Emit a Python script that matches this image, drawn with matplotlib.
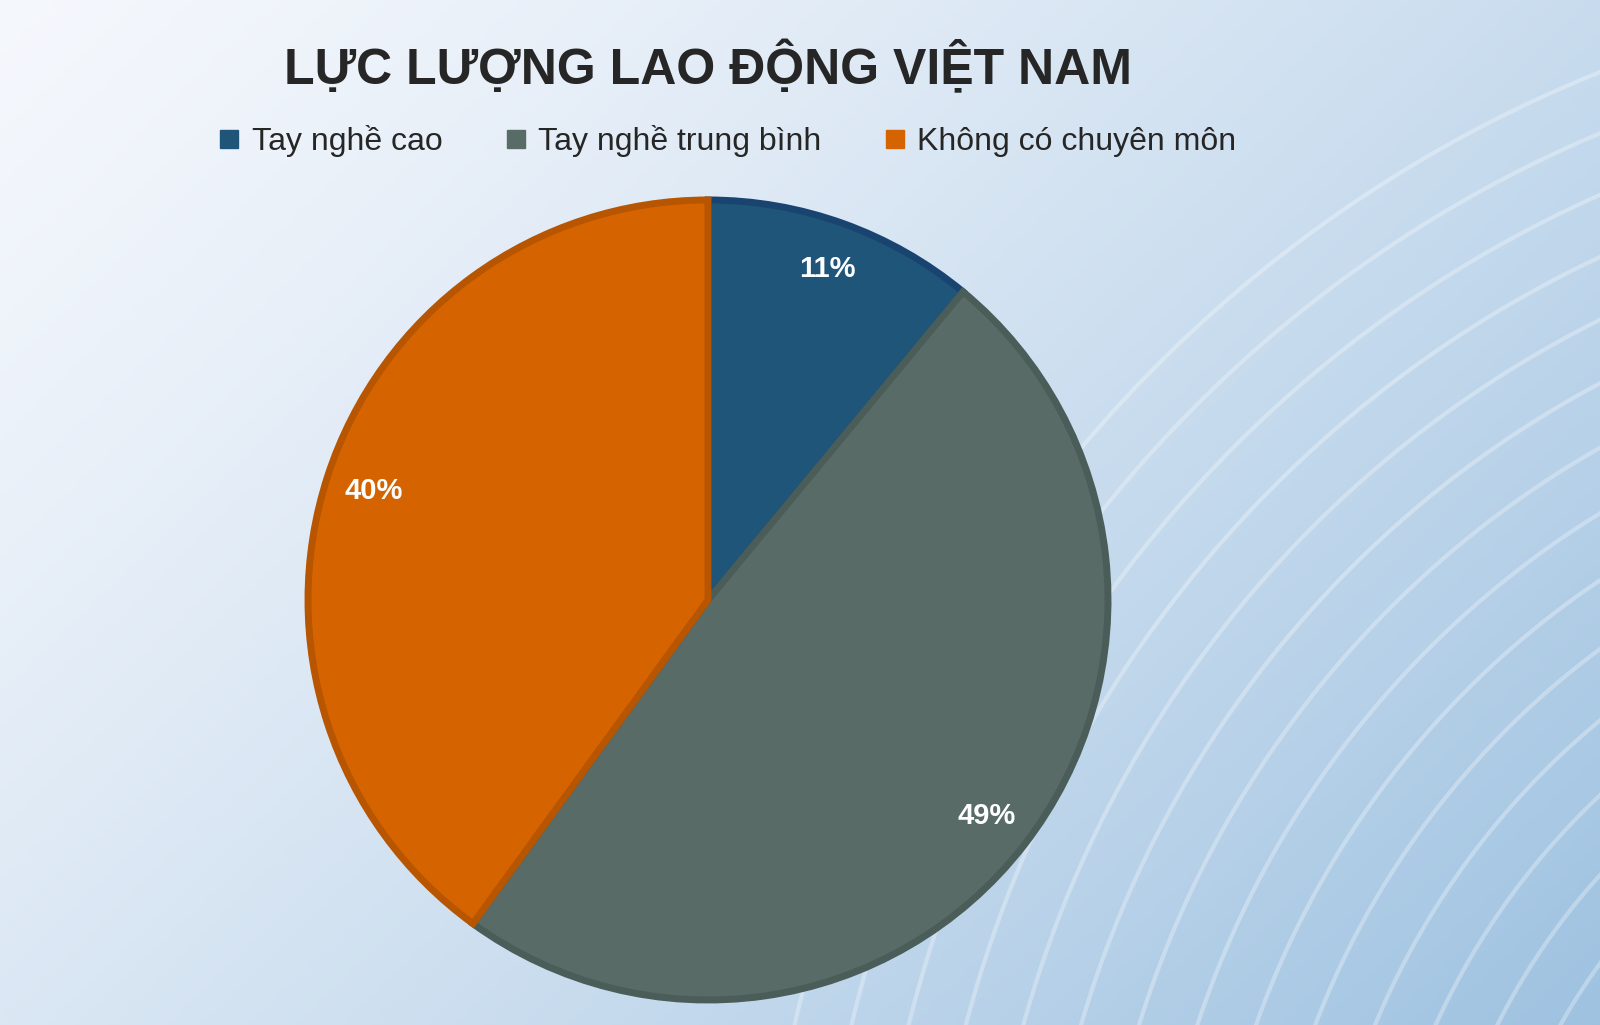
import numpy as np
import matplotlib
matplotlib.use("Agg")
import matplotlib.pyplot as plt
from matplotlib.lines import Line2D

plt.rcParams['font.family'] = ['Liberation Sans', 'DejaVu Sans']

title = "LỰC LƯỢNG LAO ĐỘNG VIỆT NAM"
categories = ["Tay nghề cao", "Tay nghề trung bình", "Không có chuyên môn"]
values = [11, 49, 40]
colors = ["#1F5578", "#586B66", "#D56400"]
edges = ["#1A4470", "#4A5D58", "#B85500"]

fig = plt.figure(figsize=(16, 10.25), dpi=100)
bg = fig.add_axes([0, 0, 1, 1])
yy, xx = np.mgrid[0:1:300j, 0:1:400j]
t = np.clip(0.6 * xx + 0.4 * yy, 0, 1)
c0 = np.array([0.96, 0.97, 0.99]); c1 = np.array([0.62, 0.76, 0.88])
img = c0 + (c1 - c0) * t[..., None] ** 1.3
bg.imshow(img, extent=[0, 1, 0, 1], aspect="auto", origin="upper")
th = np.linspace(0, np.pi, 200)
for r in np.linspace(0.5, 1.1, 14):
    bg.plot(1.3 - r * np.cos(th) * 0.75, -0.3 + r * np.sin(th) * 1.2,
            color="white", alpha=0.3, lw=3)
bg.set_xlim(0, 1); bg.set_ylim(0, 1); bg.axis("off")

ax = fig.add_axes([0.1925, 0.0244, 0.5, 0.7805])
wedges, _, autotexts = ax.pie(values, colors=colors, startangle=90, counterclock=False,
                              autopct=lambda p: f"{p:.0f}%", pctdistance=0.88,
                              textprops=dict(color="white", fontsize=21, fontweight="bold"))
for w, e in zip(wedges, edges):
    w.set_edgecolor(e); w.set_linewidth(5)
ax.set_xlim(-1, 1); ax.set_ylim(-1, 1)
ax.set_aspect("equal")

fig.text(0.4426, 0.934, title, ha="center", va="center", fontsize=36,
         fontweight="bold", color="#262626")
handles = [Line2D([], [], marker="s", ls="", color=c, markersize=13) for c in colors]
fig.legend(handles, categories, loc="center", bbox_to_anchor=(0.448, 0.862), ncol=3,
           frameon=False, fontsize=23, handletextpad=-0.3, columnspacing=1.3,
           labelcolor="#262626")
fig.savefig("out.png")
